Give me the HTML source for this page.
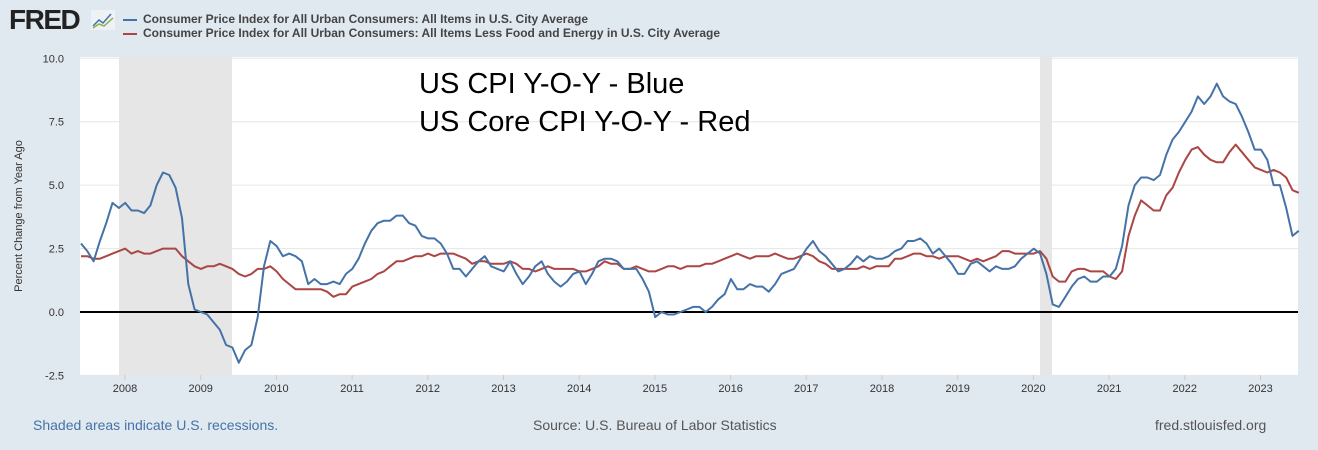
<!DOCTYPE html>
<html><head><meta charset="utf-8"><style>
body{margin:0;width:1318px;height:450px;background:#e1e9f0;font-family:"Liberation Sans",sans-serif;overflow:hidden;position:relative}
.t{position:absolute;white-space:nowrap}
</style></head><body>
<div class="t" style="left:9px;top:4px;font-size:28px;font-weight:bold;color:#222;letter-spacing:-1.5px">FRED</div>
<svg class="t" style="left:91px;top:10px" width="24" height="20"><rect x="0" y="0" width="24" height="20" fill="#eef2f5"/><polyline points="2,16 8,10 12,13 20,4" fill="none" stroke="#4572a7" stroke-width="1.5"/><polyline points="2,18 8,14 13,16 22,8" fill="none" stroke="#8cb04a" stroke-width="1.5"/></svg>
<div class="t" style="left:123px;top:19px;width:14px;height:2px;background:#4572a7"></div>
<div class="t" style="left:123px;top:33px;width:14px;height:2px;background:#aa4643"></div>
<div class="t" style="left:143px;top:12px;font-size:12px;font-weight:bold;color:#444">Consumer Price Index for All Urban Consumers: All Items in U.S. City Average</div>
<div class="t" style="left:143px;top:26px;font-size:12px;font-weight:bold;color:#444">Consumer Price Index for All Urban Consumers: All Items Less Food and Energy in U.S. City Average</div>
<svg class="t" style="left:0;top:0" width="1318" height="450" id="s"></svg>
<div class="t" style="left:419px;top:68px;font-size:29px;color:#000">US CPI Y-O-Y - Blue</div>
<div class="t" style="left:419px;top:106px;font-size:29px;color:#000">US Core CPI Y-O-Y - Red</div>
<div class="t" style="left:33px;top:417px;font-size:14px;color:#4572a7">Shaded areas indicate U.S. recessions.</div>
<div class="t" style="left:533px;top:417px;font-size:14px;color:#555">Source: U.S. Bureau of Labor Statistics</div>
<div class="t" style="left:1155px;top:417px;font-size:14px;color:#555">fred.stlouisfed.org</div>
<script>
var cpi=[2.7,2.4,2.0,2.8,3.5,4.3,4.1,
4.3,4.0,4.0,3.9,4.2,5.0,5.5,5.4,4.9,3.7,1.1,0.1,
0.0,-0.1,-0.4,-0.7,-1.3,-1.4,-2.0,-1.5,-1.3,-0.2,1.8,2.8,
2.6,2.2,2.3,2.2,2.0,1.1,1.3,1.1,1.1,1.2,1.1,1.5,
1.7,2.1,2.7,3.2,3.5,3.6,3.6,3.8,3.8,3.5,3.4,3.0,
2.9,2.9,2.7,2.3,1.7,1.7,1.4,1.7,2.0,2.2,1.8,1.7,
1.6,2.0,1.5,1.1,1.4,1.8,2.0,1.5,1.2,1.0,1.2,1.5,
1.6,1.1,1.5,2.0,2.1,2.1,2.0,1.7,1.7,1.7,1.3,0.8,
-0.2,0.0,-0.1,-0.1,0.0,0.1,0.2,0.2,0.0,0.2,0.5,0.7,
1.3,0.9,0.9,1.1,1.0,1.0,0.8,1.1,1.5,1.6,1.7,2.1,
2.5,2.8,2.4,2.2,1.9,1.6,1.7,1.9,2.2,2.0,2.2,2.1,
2.1,2.2,2.4,2.5,2.8,2.8,2.9,2.7,2.3,2.5,2.2,1.9,
1.5,1.5,1.9,2.0,1.8,1.6,1.8,1.7,1.7,1.8,2.1,2.3,
2.5,2.3,1.5,0.3,0.2,0.6,1.0,1.3,1.4,1.2,1.2,1.4,
1.4,1.7,2.6,4.2,5.0,5.3,5.3,5.2,5.4,6.2,6.8,7.1,
7.5,7.9,8.5,8.2,8.5,9.0,8.5,8.3,8.2,7.7,7.1,6.4,
6.4,6.0,5.0,5.0,4.1,3.0,3.2];
var core=[2.2,2.2,2.1,2.1,2.2,2.3,2.4,
2.5,2.3,2.4,2.3,2.3,2.4,2.5,2.5,2.5,2.2,2.0,1.8,
1.7,1.8,1.8,1.9,1.8,1.7,1.5,1.4,1.5,1.7,1.7,1.8,
1.6,1.3,1.1,0.9,0.9,0.9,0.9,0.9,0.8,0.6,0.7,0.7,
1.0,1.1,1.2,1.3,1.5,1.6,1.8,2.0,2.0,2.1,2.2,2.2,
2.3,2.2,2.3,2.3,2.3,2.2,2.1,1.9,2.0,2.0,1.9,1.9,
1.9,2.0,1.9,1.7,1.7,1.6,1.7,1.8,1.7,1.7,1.7,1.7,
1.6,1.6,1.7,1.8,2.0,1.9,1.9,1.7,1.7,1.8,1.7,1.6,
1.6,1.7,1.8,1.8,1.7,1.8,1.8,1.8,1.9,1.9,2.0,2.1,
2.2,2.3,2.2,2.1,2.2,2.2,2.2,2.3,2.2,2.1,2.1,2.2,
2.3,2.2,2.0,1.9,1.7,1.7,1.7,1.7,1.7,1.8,1.7,1.8,
1.8,1.8,2.1,2.1,2.2,2.3,2.3,2.2,2.2,2.1,2.2,2.2,
2.2,2.1,2.0,2.1,2.0,2.1,2.2,2.4,2.4,2.3,2.3,2.3,
2.3,2.4,2.1,1.4,1.2,1.2,1.6,1.7,1.7,1.6,1.6,1.6,
1.4,1.3,1.6,3.0,3.8,4.4,4.2,4.0,4.0,4.6,4.9,5.5,
6.0,6.4,6.5,6.2,6.0,5.9,5.9,6.3,6.6,6.3,6.0,5.7,
5.6,5.5,5.6,5.5,5.3,4.8,4.7];
var L=80,R=1298,T=57,B=375;
function X(i){return 81+i*6.31;}
function Y(v){return 312-v*25.37;}
var h='<rect x="'+L+'" y="'+T+'" width="'+(R-L)+'" height="'+(B-T)+'" fill="#fff"/>';
h+='<rect x="119" y="'+T+'" width="113" height="'+(B-T)+'" fill="#e6e6e6"/>';
h+='<rect x="1040" y="'+T+'" width="12" height="'+(B-T)+'" fill="#e6e6e6"/>';
[-2.5,0,2.5,5,7.5,10].forEach(function(v){var y=Y(v);
 if(v!==0)h+='<line x1="'+L+'" x2="'+R+'" y1="'+y+'" y2="'+y+'" stroke="#e6e6e6"/>';
 h+='<text x="64" y="'+(y+4)+'" text-anchor="end" font-size="11" fill="#333">'+v.toFixed(1)+'</text>';});
for(var yr=2008;yr<=2023;yr++){var x=125+(yr-2008)*75.7;
 h+='<line x1="'+x+'" x2="'+x+'" y1="'+B+'" y2="'+(B+5)+'" stroke="#ccc"/>';
 h+='<text x="'+x+'" y="'+(B+17)+'" text-anchor="middle" font-size="11" fill="#333">'+yr+'</text>';}
h+='<line x1="'+L+'" x2="'+R+'" y1="'+Y(0)+'" y2="'+Y(0)+'" stroke="#000" stroke-width="2"/>';
function pl(a,c){return '<polyline fill="none" stroke="'+c+'" stroke-width="2" stroke-linejoin="round" points="'+a.map(function(v,i){return X(i).toFixed(1)+','+Y(v).toFixed(1)}).join(' ')+'"/>';}
h+=pl(core,'#aa4643')+pl(cpi,'#4572a7');
h+='<text transform="translate(22,216) rotate(-90)" text-anchor="middle" font-size="11" fill="#333">Percent Change from Year Ago</text>';
document.getElementById('s').innerHTML=h;
</script>
</body></html>
